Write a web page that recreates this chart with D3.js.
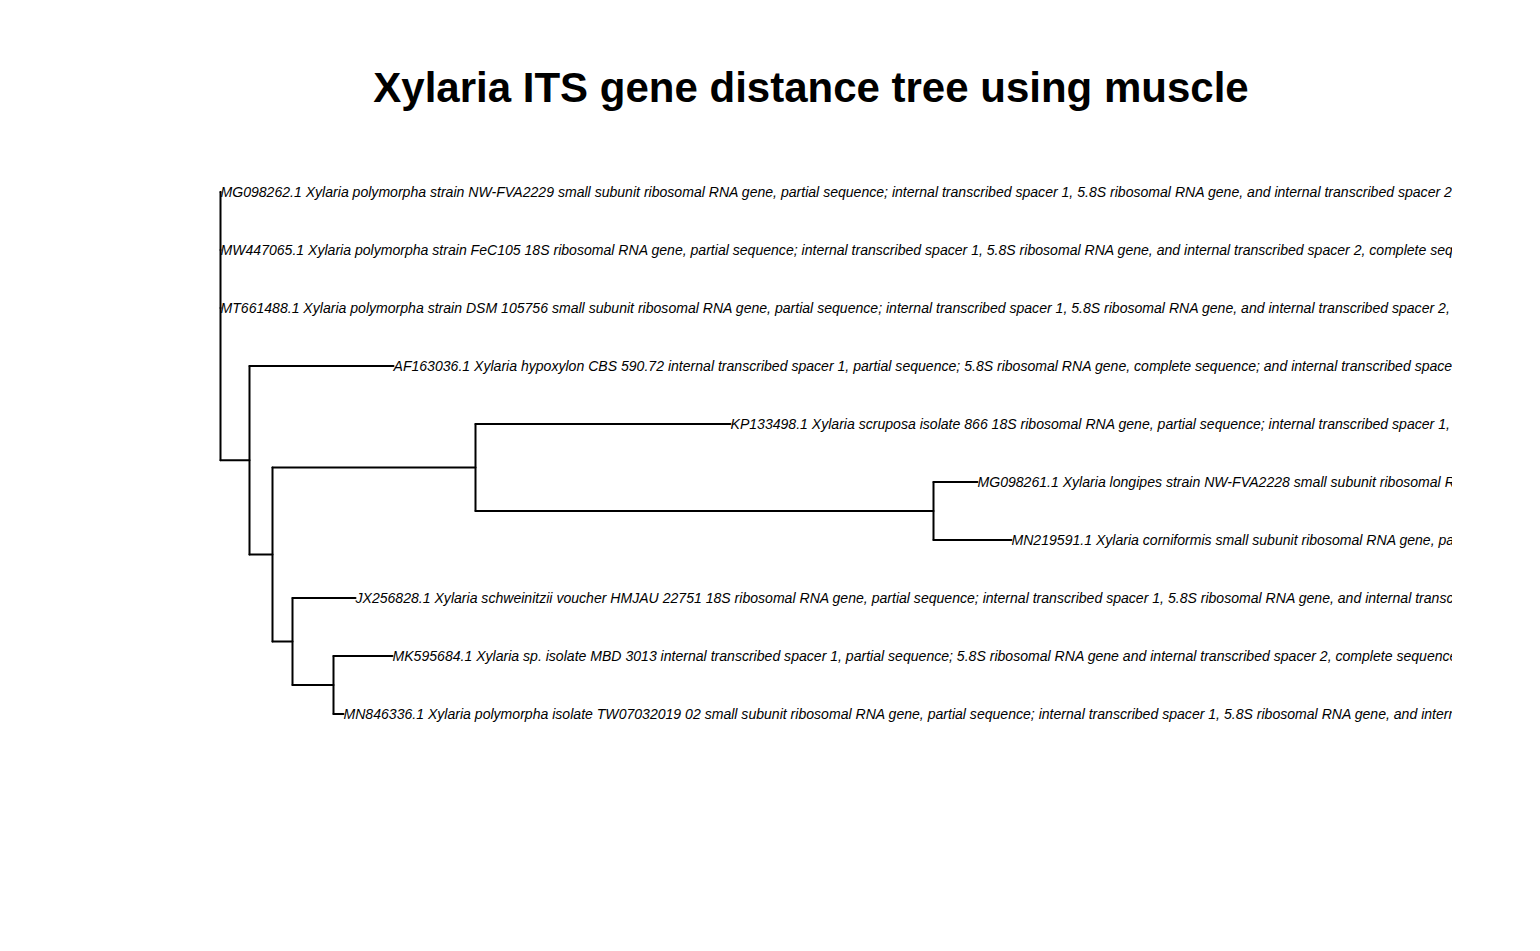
<!DOCTYPE html>
<html><head><meta charset="utf-8">
<script src="https://cdn.jsdelivr.net/npm/d3@7/dist/d3.min.js"></script>
<style>body{margin:0;background:#fff}svg{display:block}</style>
</head><body>
<svg id="chart" width="1540" height="951"></svg>
<script>
const chartTitle = "Xylaria ITS gene distance tree using muscle";

// Tree topology: node ids, their parents and branch lengths (distance units)
const nodeIds     = ["root","t1","t2","t3","A","t4","B","C","t5","E","t6","t7","D","t8","F","t9","t10"];
const parentIds   = ["",   "root","root","root","root","A","A","B","C","C","E","E","B","D","D","F","F"];
const branchLengths = [0,   0,     0,     0,     0.0145,0.072,0.0115,0.1015,0.1275,0.229,0.022,0.039,0.010,0.0315,0.0205,0.0295,0.005];

// Tip labels in plotting order (t1..t10)
const tipIds = ["t1","t2","t3","t4","t5","t6","t7","t8","t9","t10"];
const tipLabels = [
  "MG098262.1 Xylaria polymorpha strain NW-FVA2229 small subunit ribosomal RNA gene, partial sequence; internal transcribed spacer 1, 5.8S ribosomal RNA gene, and internal transcribed spacer 2, complete sequence; and large subunit ribosomal RNA gene, partial sequence",
  "MW447065.1 Xylaria polymorpha strain FeC105 18S ribosomal RNA gene, partial sequence; internal transcribed spacer 1, 5.8S ribosomal RNA gene, and internal transcribed spacer 2, complete sequence; and 28S ribosomal RNA gene, partial sequence",
  "MT661488.1 Xylaria polymorpha strain DSM 105756 small subunit ribosomal RNA gene, partial sequence; internal transcribed spacer 1, 5.8S ribosomal RNA gene, and internal transcribed spacer 2, complete sequence; and large subunit ribosomal RNA gene, partial sequence",
  "AF163036.1 Xylaria hypoxylon CBS 590.72 internal transcribed spacer 1, partial sequence; 5.8S ribosomal RNA gene, complete sequence; and internal transcribed spacer 2, partial sequence",
  "KP133498.1 Xylaria scruposa isolate 866 18S ribosomal RNA gene, partial sequence; internal transcribed spacer 1, 5.8S ribosomal RNA gene, and internal transcribed spacer 2, complete sequence; and 28S ribosomal RNA gene, partial sequence",
  "MG098261.1 Xylaria longipes strain NW-FVA2228 small subunit ribosomal RNA gene, partial sequence; internal transcribed spacer 1, 5.8S ribosomal RNA gene, and internal transcribed spacer 2, complete sequence",
  "MN219591.1 Xylaria corniformis small subunit ribosomal RNA gene, partial sequence; internal transcribed spacer 1, 5.8S ribosomal RNA gene, and internal transcribed spacer 2, complete sequence",
  "JX256828.1 Xylaria schweinitzii voucher HMJAU 22751 18S ribosomal RNA gene, partial sequence; internal transcribed spacer 1, 5.8S ribosomal RNA gene, and internal transcribed spacer 2, complete sequence; and 28S ribosomal RNA gene, partial sequence",
  "MK595684.1 Xylaria sp. isolate MBD 3013 internal transcribed spacer 1, partial sequence; 5.8S ribosomal RNA gene and internal transcribed spacer 2, complete sequence; and large subunit ribosomal RNA gene, partial sequence",
  "MN846336.1 Xylaria polymorpha isolate TW07032019 02 small subunit ribosomal RNA gene, partial sequence; internal transcribed spacer 1, 5.8S ribosomal RNA gene, and internal transcribed spacer 2, complete sequence; and large subunit ribosomal RNA gene, partial sequence"
];

const svg = d3.select("#chart");

const rows = nodeIds.map((id, i) => ({id, parent: parentIds[i] || null, len: branchLengths[i]}));
const root = d3.stratify().id(d => d.id).parentId(d => d.parent)(rows);

// cumulative distance from root
root.eachBefore(n => { n.dist = n.parent ? n.parent.dist + n.data.len : 0; });

const x = d3.scaleLinear().domain([0, 0.4]).range([220.5, 1020.5]);
const y = d3.scaleLinear().domain([0, tipIds.length - 1]).range([192, 714]);

// y positions: tips by order, internal nodes at middle of first/last child
root.eachAfter(n => {
  if (!n.children) n.yv = y(tipIds.indexOf(n.id));
  else n.yv = (n.children[0].yv + n.children[n.children.length - 1].yv) / 2;
});

svg.append("defs").append("clipPath").attr("id", "plotclip")
  .append("rect").attr("x", 0).attr("y", 0).attr("width", 1452).attr("height", 951);

const g = svg.append("g").attr("clip-path", "url(#plotclip)");

// horizontal edges
g.selectAll("line.h").data(root.descendants().filter(n => n.parent))
  .join("line").attr("class", "h")
  .attr("x1", n => x(n.parent.dist)).attr("x2", n => x(n.dist))
  .attr("y1", n => n.yv).attr("y2", n => n.yv)
  .attr("stroke", "#000").attr("stroke-width", 2).attr("stroke-linecap", "round");

// vertical connectors
g.selectAll("line.v").data(root.descendants().filter(n => n.children))
  .join("line").attr("class", "v")
  .attr("x1", n => x(n.dist)).attr("x2", n => x(n.dist))
  .attr("y1", n => n.children[0].yv).attr("y2", n => n.children[n.children.length - 1].yv)
  .attr("stroke", "#000").attr("stroke-width", 2).attr("stroke-linecap", "round");

// tip labels
g.selectAll("text.tip").data(root.leaves())
  .join("text").attr("class", "tip")
  .attr("x", n => x(n.dist))
  .attr("y", n => n.yv)
  .attr("dy", "0.35em")
  .attr("font-family", "'Liberation Sans', Arial, sans-serif")
  .attr("font-style", "italic")
  .attr("font-size", 14.07)
  .attr("fill", "#000")
  .text(n => tipLabels[tipIds.indexOf(n.id)]);

svg.append("text")
  .attr("x", 811).attr("y", 102)
  .attr("text-anchor", "middle")
  .attr("font-family", "'Liberation Sans', Arial, sans-serif")
  .attr("font-weight", "bold")
  .attr("font-size", 42)
  .attr("fill", "#000")
  .text(chartTitle);
</script>
</body></html>
